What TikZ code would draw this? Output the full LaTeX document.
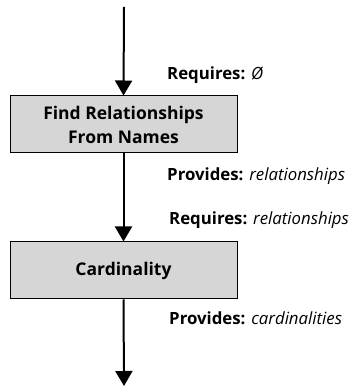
\documentclass[tikz,border=0pt]{standalone}
\usepackage{fontspec}
\setmainfont{Open Sans}
\usetikzlibrary{arrows.meta}
\begin{document}
\begin{tikzpicture}[x=1pt,y=1pt,
  stagebox/.style={draw=black,line width=1pt,fill=gray!32,minimum width=227pt,minimum height=57pt,
    align=center,font=\fontsize{17.5}{24}\selectfont\bfseries,inner sep=0pt},
  flow/.style={line width=2pt,-{Triangle[length=15pt,width=17pt]}},
  note/.style={anchor=west,font=\fontsize{16.8}{19}\selectfont,inner sep=0pt}]
\useasboundingbox (0,0) rectangle (353,387);
\node[stagebox] (find) at (123.5,262.5) {Find Relationships\\From Names};
\node[stagebox] (card) at (123.5,116.5) {Cardinality};
\coordinate (top) at (124,380);
\coordinate (bottom) at (124,1);
\draw[flow] (top) -- (find.north);
\draw[flow] (find.south) -- (card.north);
\draw[flow] (card.south) -- (bottom);
\node[note] (req1) at (167,312) {\textbf{Requires:} \textit{Ø}};
\node[note] (prov1) at (167,211) {\textbf{Provides:} \textit{relationships}};
\node[note] (req2) at (169,167) {\textbf{Requires:} \textit{relationships}};
\node[note] (prov2) at (169,69) {\textbf{Provides:} \textit{cardinalities}};
\end{tikzpicture}
\end{document}
